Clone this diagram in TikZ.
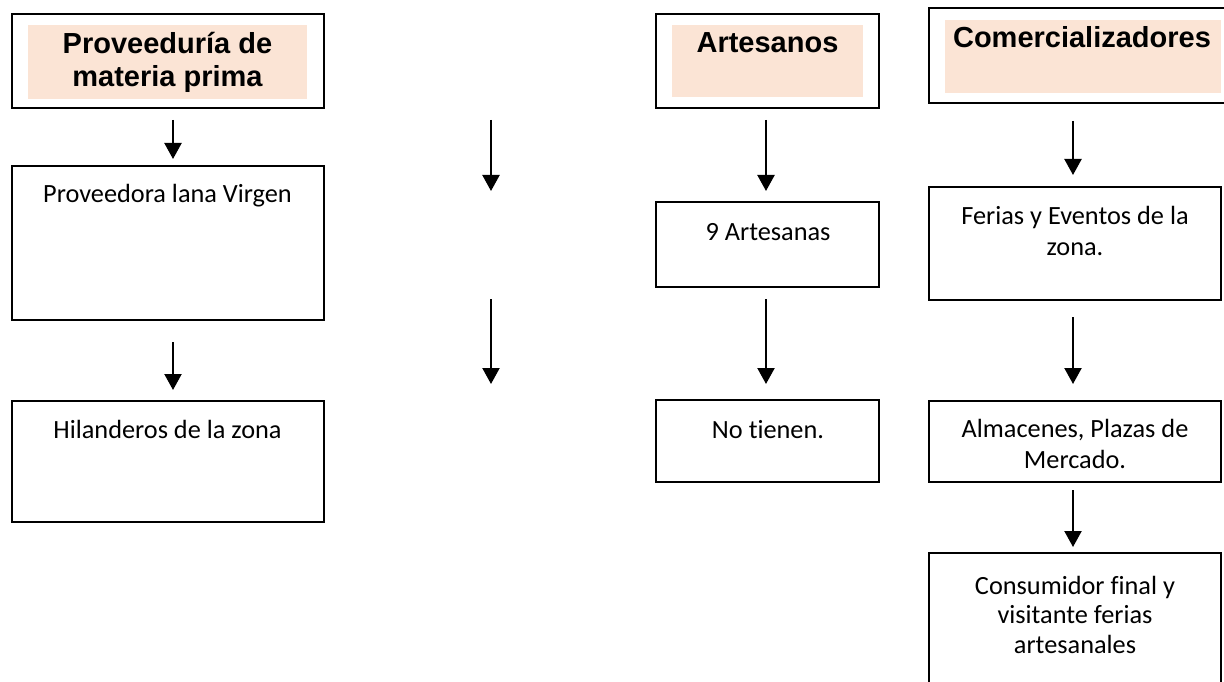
\documentclass[tikz,border=0pt]{standalone}
\usepackage{fontspec}
\setmainfont{Carlito}[Ligatures=NoCommon]
\newfontfamily\hfont{Liberation Sans}
\usetikzlibrary{arrows.meta}
\definecolor{peach}{HTML}{FBE4D5}
\tikzset{
  boxx/.style={draw=black, line width=1.8pt, fill=white, inner sep=0pt, outer sep=0pt},
  peachfill/.style={fill=peach, draw=none, inner sep=0pt, outer sep=0pt},
  htxt/.style={anchor=base, inner sep=0pt, font=\hfont\bfseries\fontsize{29}{33}\selectfont},
  btxt/.style={anchor=base, inner sep=0pt, font=\fontsize{26.3}{31}\selectfont},
  arr/.style={line width=2.2pt, -{Triangle[length=16pt,width=17pt]}}
}
\begin{document}
\begin{tikzpicture}[x=1pt,y=-1pt]
\useasboundingbox (0,0) rectangle (1224,682);
% headers
\node[boxx, minimum width=312, minimum height=94] (hprov) at (168,61) {};
\node[peachfill, minimum width=279, minimum height=74] (hprovf) at (167.5,62) {};
\node[htxt] (hprovt1) at (167.5,54) {Proveeduría de};
\node[htxt] (hprovt2) at (167.5,87) {materia prima};

\node[boxx, minimum width=223, minimum height=94] (hart) at (767.5,61) {};
\node[peachfill, minimum width=191, minimum height=72] (hartf) at (767.5,61) {};
\node[htxt] (hartt) at (767.5,53) {Artesanos};

\node[boxx, minimum width=311, minimum height=95] (hcom) at (1084.5,55.5) {};
\node[peachfill, minimum width=276, minimum height=73] (hcomf) at (1083,56.5) {};
\node[htxt] (hcomt) at (1082,48) {Comercializadores};

% left column
\node[boxx, minimum width=312, minimum height=154] (bprov) at (168,243) {};
\node[btxt] (bprovt) at (167.5,202) {Proveedora lana Virgen};
\node[boxx, minimum width=312, minimum height=121] (bhil) at (168,461.5) {};
\node[btxt] (bhilt) at (167.5,438) {Hilanderos de la zona};

% artesanos column
\node[boxx, minimum width=223, minimum height=85] (b9) at (767.5,244.5) {};
\node[btxt] (b9t) at (768,240) {9 Artesanas};
\node[boxx, minimum width=223, minimum height=82] (bno) at (767.5,441) {};
\node[btxt] (bnot) at (768,438) {No tienen.};

% comercializadores column
\node[boxx, minimum width=292, minimum height=113] (bfer) at (1075,243.5) {};
\node[btxt] (bfert1) at (1075,224) {Ferias y Eventos de la};
\node[btxt] (bfert2) at (1075,255) {zona.};
\node[boxx, minimum width=292, minimum height=81] (balm) at (1075,441.5) {};
\node[btxt] (balmt1) at (1075,437) {Almacenes, Plazas de};
\node[btxt] (balmt2) at (1075,468) {Mercado.};
\node[boxx, minimum width=292, minimum height=167] (bcons) at (1075,636.5) {};
\node[btxt] (bconst1) at (1075,594) {Consumidor final y};
\node[btxt] (bconst2) at (1075,623) {visitante ferias};
\node[btxt] (bconst3) at (1075,653) {artesanales};

% arrow end points
\coordinate (a1s) at (173,120); \coordinate (a1e) at (173,159);
\coordinate (a2s) at (173,342); \coordinate (a2e) at (173,390);
\coordinate (m1s) at (491,120); \coordinate (m1e) at (491,191);
\coordinate (m2s) at (491,299); \coordinate (m2e) at (491,384);
\coordinate (r1s) at (766,120); \coordinate (r1e) at (766,191);
\coordinate (r2s) at (766,299); \coordinate (r2e) at (766,384);
\coordinate (c1s) at (1073,121); \coordinate (c1e) at (1073,175);
\coordinate (c2s) at (1073,317); \coordinate (c2e) at (1073,384);
\coordinate (c3s) at (1073,490); \coordinate (c3e) at (1073,547);

\draw[arr] (a1s) -- (a1e);
\draw[arr] (a2s) -- (a2e);
\draw[arr] (m1s) -- (m1e);
\draw[arr] (m2s) -- (m2e);
\draw[arr] (r1s) -- (r1e);
\draw[arr] (r2s) -- (r2e);
\draw[arr] (c1s) -- (c1e);
\draw[arr] (c2s) -- (c2e);
\draw[arr] (c3s) -- (c3e);
\end{tikzpicture}
\end{document}
